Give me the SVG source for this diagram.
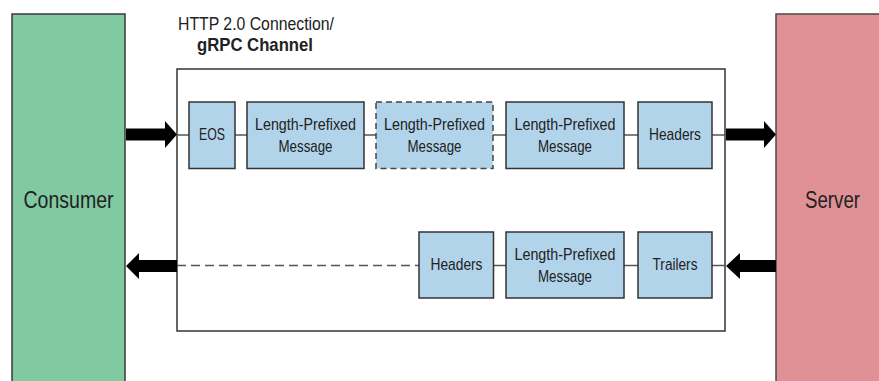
<svg xmlns="http://www.w3.org/2000/svg" width="879" height="381" viewBox="0 0 879 381">
  <style>
    text { font-family: "Liberation Sans", Arial, sans-serif; fill: #222; }
    .lbl { font-size: 17px; text-anchor: middle; }
    .big { font-size: 23px; text-anchor: middle; }
    .box { fill: #b2d4ea; stroke: #333; stroke-width: 1.5; }
    .dashbox { fill: #b2d4ea; stroke: #444; stroke-width: 1.5; stroke-dasharray: 6 4; }
    .link { stroke: #555; stroke-width: 1.5; fill: none; }
    .dlink { stroke: #555; stroke-width: 1.5; fill: none; stroke-dasharray: 9 5; }
    .arrow { fill: #000; }
  </style>

  <g id="consumer">
    <rect x="12" y="14" width="113" height="380" fill="#80c9a1" stroke="#3a3a3a" stroke-width="1.5"/>
    <text class="big" x="68.5" y="208" textLength="90" lengthAdjust="spacingAndGlyphs">Consumer</text>
  </g>

  <g id="server">
    <rect x="776" y="14" width="120" height="380" fill="#df9195" stroke="#4a4a4a" stroke-width="1.5"/>
    <text class="big" x="832.5" y="208" textLength="55" lengthAdjust="spacingAndGlyphs">Server</text>
  </g>

  <g id="channel">
    <text x="178" y="30" font-size="19" textLength="156" lengthAdjust="spacingAndGlyphs">HTTP 2.0 Connection/</text>
    <text x="197" y="51" font-size="19" font-weight="bold" textLength="116" lengthAdjust="spacingAndGlyphs">gRPC Channel</text>
    <rect x="177" y="69" width="548" height="262" fill="none" stroke="#333" stroke-width="1.5"/>
  </g>

  <g id="connectors">
    <line class="link" x1="177" y1="135" x2="189" y2="135"/>
    <line class="link" x1="235" y1="135" x2="247" y2="135"/>
    <line class="link" x1="364" y1="135" x2="376" y2="135"/>
    <line class="link" x1="493" y1="135" x2="506" y2="135"/>
    <line class="link" x1="624" y1="135" x2="638" y2="135"/>
    <line class="link" x1="712" y1="135" x2="725" y2="135"/>
    <line class="dlink" x1="177" y1="265.5" x2="419" y2="265.5"/>
    <line class="link" x1="493" y1="265.5" x2="506" y2="265.5"/>
    <line class="link" x1="624" y1="265.5" x2="638" y2="265.5"/>
    <line class="link" x1="712" y1="265.5" x2="725" y2="265.5"/>
    <polygon class="arrow" points="126,128.5 165,128.5 165,121 177,134.5 165,148 165,140.5 126,140.5"/>
    <polygon class="arrow" points="726,128.5 764,128.5 764,121 776,134.5 764,148 764,140.5 726,140.5"/>
    <polygon class="arrow" points="776,260 740,260 740,253 726,266 740,279 740,272 776,272"/>
    <polygon class="arrow" points="177,260 139,260 139,253 126,266 139,279 139,272 177,272"/>
  </g>

  <g id="eos">
    <rect class="box" x="189" y="102" width="46" height="66.5"/>
    <text class="lbl" x="212" y="140" textLength="26" lengthAdjust="spacingAndGlyphs">EOS</text>
  </g>
  <g id="msg1">
    <rect class="box" x="247" y="102" width="117" height="66.5"/>
    <text class="lbl" x="305.5" y="130" textLength="101" lengthAdjust="spacingAndGlyphs">Length-Prefixed</text>
    <text class="lbl" x="305.5" y="152" textLength="54" lengthAdjust="spacingAndGlyphs">Message</text>
  </g>
  <g id="msg2">
    <rect class="dashbox" x="376" y="102" width="117" height="66.5"/>
    <text class="lbl" x="434.5" y="130" textLength="101" lengthAdjust="spacingAndGlyphs">Length-Prefixed</text>
    <text class="lbl" x="434.5" y="152" textLength="54" lengthAdjust="spacingAndGlyphs">Message</text>
  </g>
  <g id="msg3">
    <rect class="box" x="506" y="102" width="118" height="66.5"/>
    <text class="lbl" x="565" y="130" textLength="101" lengthAdjust="spacingAndGlyphs">Length-Prefixed</text>
    <text class="lbl" x="565" y="152" textLength="54" lengthAdjust="spacingAndGlyphs">Message</text>
  </g>
  <g id="req-headers">
    <rect class="box" x="638" y="102" width="74" height="66.5"/>
    <text class="lbl" x="675" y="140" textLength="52" lengthAdjust="spacingAndGlyphs">Headers</text>
  </g>

  <g id="resp-headers">
    <rect class="box" x="419" y="232" width="74.5" height="66"/>
    <text class="lbl" x="456.5" y="270" textLength="52" lengthAdjust="spacingAndGlyphs">Headers</text>
  </g>
  <g id="resp-msg">
    <rect class="box" x="506" y="232" width="118" height="66"/>
    <text class="lbl" x="565" y="259.5" textLength="101" lengthAdjust="spacingAndGlyphs">Length-Prefixed</text>
    <text class="lbl" x="565" y="281.5" textLength="54" lengthAdjust="spacingAndGlyphs">Message</text>
  </g>
  <g id="trailers">
    <rect class="box" x="638" y="232" width="74" height="66"/>
    <text class="lbl" x="675" y="270" textLength="45" lengthAdjust="spacingAndGlyphs">Trailers</text>
  </g>
</svg>
